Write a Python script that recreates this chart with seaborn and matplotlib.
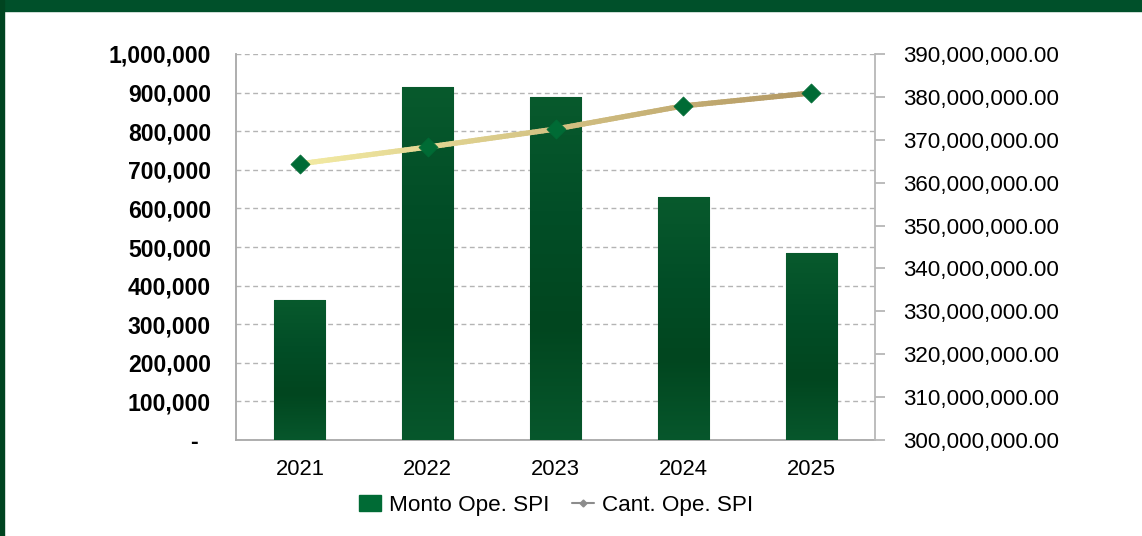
import numpy as np
import pandas as pd
import matplotlib
matplotlib.use("Agg")
import matplotlib.pyplot as plt
import seaborn as sns
from matplotlib.patches import Rectangle
from matplotlib.colors import LinearSegmentedColormap, to_rgb
from matplotlib.ticker import FixedLocator, FuncFormatter
from matplotlib.lines import Line2D

years = ["2021", "2022", "2023", "2024", "2025"]
monto = [363000, 914000, 889000, 630000, 485000]
cantidad = [364.4e6, 368.3e6, 372.5e6, 377.9e6, 380.9e6]
left_ticks = [0, 100000, 200000, 300000, 400000, 500000, 600000, 700000, 800000, 900000, 1000000]
right_ticks = [300e6, 310e6, 320e6, 330e6, 340e6, 350e6, 360e6, 370e6, 380e6, 390e6]
legend_labels = ["Monto Ope. SPI", "Cant. Ope. SPI"]

sns.set_theme(style="white")
plt.rcParams["font.family"] = ["Liberation Sans", "DejaVu Sans"]
plt.rcParams["text.color"] = "black"

W, H = 1142, 536
fig = plt.figure(figsize=(W / 100, H / 100), dpi=100)
fig.patch.set_facecolor("white")

# frame decoration
fig.patches.append(Rectangle((0, 1 - 11 / H), 1, 11 / H, transform=fig.transFigure,
                             color="#00502a", zorder=0))
fig.patches.append(Rectangle((0, 0), 4 / W, 1, transform=fig.transFigure,
                             color="#004420", zorder=0))

ax = fig.add_axes([236 / W, 1 - 440 / H, (875 - 236) / W, (440 - 54) / H])
ax.set_facecolor("white")

df = pd.DataFrame({"year": years, "monto": monto})
sns.barplot(data=df, x="year", y="monto", ax=ax, color="#01542a", saturation=1,
            width=0.4, edgecolor="#4f7f60", linewidth=0.8, zorder=3)

# subtle gradient fill in bars
cmap = LinearSegmentedColormap.from_list(
    "g", ["#085a2d", "#024e27", "#01461f", "#07572c"])
grad = np.linspace(0, 1, 256).reshape(-1, 1)
for p in ax.patches:
    x0, y0 = p.get_x(), p.get_y()
    w, h = p.get_width(), p.get_height()
    im = ax.imshow(np.flipud(grad), cmap=cmap, aspect="auto", origin="lower",
                   extent=[x0, x0 + w, y0, y0 + h], zorder=3.5,
                   vmin=0, vmax=1)
    im.set_clip_path(p)
ax.set_xlim(-0.5, 4.5)
ax.set_ylim(0, 1000000)

ax.yaxis.set_major_locator(FixedLocator(left_ticks))
ax.yaxis.set_major_formatter(FuncFormatter(lambda v, p: "-  " if v == 0 else f"{v:,.0f}"))
ax.grid(axis="y", color="#b4b4b4", linestyle=(0, (3.5, 2.5)), linewidth=1.0, zorder=0)
ax.grid(axis="x", visible=False)
ax.set_axisbelow(True)
ax.set_xlabel("")
ax.set_ylabel("")
for s in ["top", "right"]:
    ax.spines[s].set_visible(False)
for s in ["left", "bottom"]:
    ax.spines[s].set_color("#a8a8a8")
    ax.spines[s].set_linewidth(1.3)
ax.tick_params(axis="y", length=0, pad=18, labelsize=16.6, labelcolor="black")
ax.tick_params(axis="x", length=0, pad=14, labelsize=15.8, labelcolor="black")
for t in ax.get_yticklabels():
    t.set_fontweight("bold")

ax2 = ax.twinx()
ax2.set_ylim(300e6, 390e6)
ax2.yaxis.set_major_locator(FixedLocator(right_ticks))
ax2.yaxis.set_major_formatter(FuncFormatter(lambda v, p: f"{v:,.2f}"))
ax2.tick_params(axis="y", length=7, width=1.2, color="#b0b0b0", pad=13,
                labelsize=16.1, labelcolor="black", direction="out", right=True)
for s in ["top", "left", "bottom"]:
    ax2.spines[s].set_visible(False)
ax2.spines["right"].set_color("#b8b8b8")
ax2.spines["right"].set_linewidth(1.3)
ax2.grid(False)

xpos = np.arange(len(years))
c0, c1 = np.array(to_rgb("#f3eba3")), np.array(to_rgb("#b39863"))
nseg = 40
xs = np.linspace(xpos[0], xpos[-1], nseg * (len(xpos) - 1) + 1)
ys = np.interp(xs, xpos, cantidad)
for i in range(len(xs) - 1):
    f = i / (len(xs) - 2)
    ax2.plot(xs[i:i + 2], ys[i:i + 2], color=tuple(c0 * (1 - f) + c1 * f),
             linewidth=3.8, solid_capstyle="round", zorder=4)
sns.scatterplot(x=xpos, y=cantidad, ax=ax2, marker="D", s=95, color="#006b35",
                edgecolor="#006b35", linewidth=0.5, zorder=5)

handles = [Rectangle((0, 0), 1, 1, color="#006b35"),
           Line2D([0], [0], color="#8c8c8c", linewidth=1.5, marker="D", markersize=3.5)]
leg = fig.legend(handles, legend_labels, loc="center", bbox_to_anchor=(556 / W, 1 - 505 / H),
                 ncol=2, frameon=False, fontsize=16.2, handlelength=1.0, handleheight=0.7,
                 handletextpad=0.35, columnspacing=1.0)
for t in leg.get_texts():
    t.set_color("black")

fig.savefig("out.png", dpi=100, facecolor=fig.get_facecolor())
